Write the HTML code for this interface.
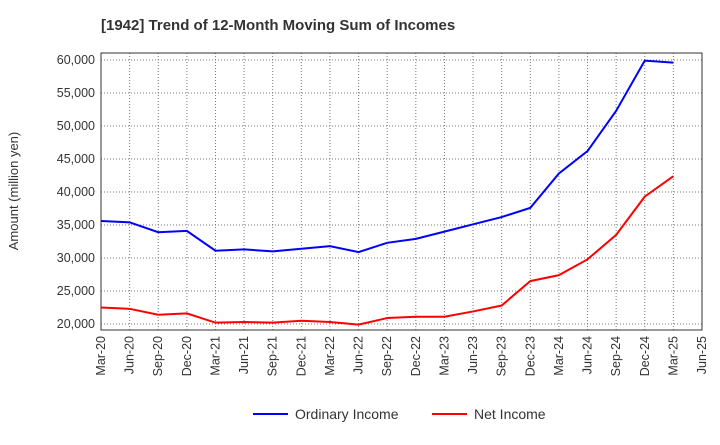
<!DOCTYPE html>
<html><head><meta charset="utf-8"><style>
body{margin:0;background:#fff;font-family:"Liberation Sans",sans-serif;}
svg text{font-family:"Liberation Sans",sans-serif;}
</style></head><body>
<svg width="720" height="440" viewBox="0 0 720 440">
<text x="101" y="30" font-size="15" font-weight="bold" fill="#333">[1942]  Trend of 12-Month Moving Sum of Incomes</text>
<g id="grid"></g>
<rect x="101" y="53" width="601" height="277" fill="none" stroke="#333" stroke-width="1"/>
<g id="yticks"></g><g id="xticks"></g><g id="series"></g>
<text transform="translate(18,191) rotate(-90)" text-anchor="middle" font-size="13" fill="#333">Amount (million yen)</text>
<g>
<line x1="253" y1="414" x2="288" y2="414" stroke="#0000ff" stroke-width="2"/>
<text x="295" y="419" font-size="14" fill="#333">Ordinary Income</text>
<line x1="432" y1="414" x2="467" y2="414" stroke="#ff0000" stroke-width="2"/>
<text x="474" y="419" font-size="14" fill="#333">Net Income</text>
</g>
</svg>
<script>
const categories=["Mar-20","Jun-20","Sep-20","Dec-20","Mar-21","Jun-21","Sep-21","Dec-21","Mar-22","Jun-22","Sep-22","Dec-22","Mar-23","Jun-23","Sep-23","Dec-23","Mar-24","Jun-24","Sep-24","Dec-24","Mar-25","Jun-25"];
const ordinaryIncome=[35600,35400,33900,34100,31100,31300,31000,31400,31800,30900,32300,32900,34000,35100,36200,37600,42800,46200,52300,59900,59600];
const netIncome=[22500,22300,21400,21600,20200,20300,20200,20500,20300,19900,20900,21100,21100,21900,22800,26500,27400,29800,33500,39300,42400];
const yTicks=[20000,25000,30000,35000,40000,45000,50000,55000,60000];
const NS="http://www.w3.org/2000/svg";
const X0=101,X1=702,Y0=330,Y1=53,YMIN=19090,YMAX=61060;
const xs=i=>X0+(X1-X0)*i/(categories.length-1);
const ys=v=>Y0-(v-YMIN)/(YMAX-YMIN)*(Y0-Y1);
function mk(t,a,p){const e=document.createElementNS(NS,t);for(const k in a)e.setAttribute(k,a[k]);p.appendChild(e);return e;}
const grid=document.getElementById('grid'),yt=document.getElementById('yticks'),xt=document.getElementById('xticks'),se=document.getElementById('series');
yTicks.forEach(v=>{const y=ys(v);
const g=mk('line',{x1:X0,x2:X1,y1:y,y2:y,stroke:'#777','stroke-dasharray':'1,2'},grid);


const t=mk('text',{x:X0-6,y:y+4,'text-anchor':'end','font-size':12.5,fill:'#333'},yt);t.textContent=v.toLocaleString('en-US');

});
categories.forEach((c,i)=>{const x=xs(i);
const g=mk('line',{x1:x,x2:x,y1:Y1,y2:Y0,stroke:'#777','stroke-dasharray':'1,2'},grid);


const t=mk('text',{transform:`translate(${x+4},${Y0+6}) rotate(-90)`,'text-anchor':'end','font-size':12.5,fill:'#333'},xt);t.textContent=c;

});
function line(d,col,name){const p=mk('polyline',{points:d.map((v,i)=>xs(i)+','+ys(v)).join(' '),fill:'none',stroke:col,'stroke-width':2},se);

}
line(ordinaryIncome,'#0000ff','ordinary-income-line');
line(netIncome,'#ff0000','net-income-line');
</script>
</body></html>
